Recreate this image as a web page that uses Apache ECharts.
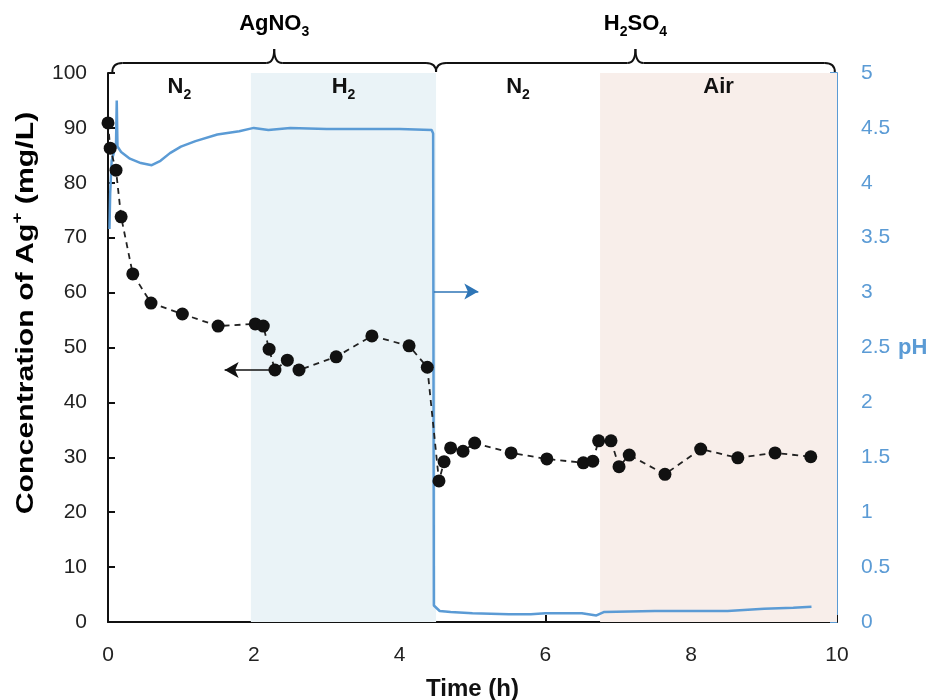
<!DOCTYPE html>
<html>
<head>
<meta charset="utf-8">
<script src="https://cdn.jsdelivr.net/npm/echarts@6/dist/echarts.min.js"></script>
<style>
  html, body { margin: 0; padding: 0; background: #fff; }
  #main { width: 935px; height: 700px; }
</style>
</head>
<body>
<div id="main"></div>
<script>
// Ag+ concentration (mg/L) vs time (h)
var agTime = [0, 0.03, 0.11, 0.18, 0.34, 0.59, 1.02, 1.51, 2.02, 2.13, 2.21, 2.29, 2.46, 2.62, 3.13, 3.62, 4.13, 4.38,
              4.54, 4.61, 4.70, 4.87, 5.03, 5.53, 6.02, 6.52, 6.65, 6.73, 6.90, 7.01, 7.15, 7.64, 8.13, 8.64, 9.15, 9.64];
var agConc = [90.9, 86.3, 82.3, 73.8, 63.4, 58.1, 56.1, 53.9, 54.3, 53.9, 49.7, 45.9, 47.7, 45.9, 48.3, 52.1, 50.3, 46.4,
              25.7, 29.2, 31.7, 31.1, 32.6, 30.8, 29.7, 29.0, 29.3, 33.0, 33.0, 28.3, 30.4, 26.9, 31.5, 29.9, 30.8, 30.1];

// pH trace
var phTime = [0.02, 0.03, 0.05, 0.09, 0.11, 0.12, 0.13, 0.18, 0.3, 0.45, 0.6, 0.72, 0.85, 1.0, 1.2, 1.5, 1.8, 2.0, 2.2, 2.5,
              3.0, 3.5, 4.0, 4.44, 4.46, 4.47, 4.55, 4.7, 5.0, 5.5, 5.8, 6.0, 6.5, 6.7, 6.8, 7.5, 8.5, 9.0, 9.4, 9.65];
var phVal = [3.58, 3.9, 4.2, 4.3, 4.35, 4.75, 4.33, 4.28, 4.22, 4.18, 4.16, 4.2, 4.27, 4.33, 4.38, 4.44, 4.47, 4.5, 4.48, 4.5,
             4.49, 4.49, 4.49, 4.48, 4.45, 0.15, 0.1, 0.09, 0.08, 0.07, 0.07, 0.08, 0.08, 0.06, 0.09, 0.1, 0.1, 0.12, 0.13, 0.14];

// gas phases along the time axis
var phaseNames = ['N2', 'H2', 'N2', 'Air'];
var phaseStart = [0, 1.96, 4.5, 6.75];
var phaseEnd = [1.96, 4.5, 6.75, 10];
var phaseColor = ['rgba(0,0,0,0)', '#eaf3f7', 'rgba(0,0,0,0)', '#f8eeea'];

// solutions (braces on top)
var solNames = ['AgNO3', 'H2SO4'];
var solStart = [0.06, 4.5];
var solEnd = [4.5, 9.97];

var blue = '#5b9bd5';
var font = 'Liberation Sans, Arial, sans-serif';

function zip(a, b) {
    var out = [];
    for (var i = 0; i < a.length; i++) out.push([a[i], b[i]]);
    return out;
}

var richSub = {
    b: { fontSize: 22, lineHeight: 26, fontWeight: 'bold', color: '#111', fontFamily: font, verticalAlign: 'top' },
    s: { fontSize: 14, lineHeight: 16, fontWeight: 'bold', color: '#111', fontFamily: font, verticalAlign: 'bottom', padding: [12, 0, 0, 0] }
};

// 'H2SO4' -> '{b|H}{s|2}{b|SO}{s|4}'
function subLabel(name) {
    return name.replace(/([A-Za-z]+)|(\d+)/g, function (m, letters, digits) {
        return letters ? '{b|' + letters + '}' : '{s|' + digits + '}';
    });
}

var areas = [];
for (var i = 0; i < phaseNames.length; i++) {
    areas.push([
        { xAxis: phaseStart[i], yAxis: 0, itemStyle: { color: phaseColor[i] },
          label: { formatter: subLabel(phaseNames[i]) } },
        { xAxis: phaseEnd[i], yAxis: 100 }
    ]);
}

var chart = echarts.init(document.getElementById('main'));
var option = {
    animation: false,
    backgroundColor: '#fff',
    grid: { left: 108, right: 98, top: 73, bottom: 78, outerBoundsMode: 'none', containLabel: false },
    xAxis: {
        type: 'value', min: 0, max: 10, interval: 2,
        name: 'Time (h)', nameLocation: 'middle', nameGap: 55,
        nameTextStyle: { fontSize: 24, fontWeight: 'bold', color: '#111', fontFamily: font },
        axisLine: { lineStyle: { color: '#111', width: 2 } },
        axisTick: { inside: true, length: 7, lineStyle: { color: '#111', width: 2 } },
        axisLabel: { fontSize: 21, color: '#222', fontFamily: font, margin: 23 },
        splitLine: { show: false }
    },
    yAxis: [{
        type: 'value', min: 0, max: 100, interval: 10,
        axisLine: { show: true, lineStyle: { color: '#111', width: 2 } },
        axisTick: { show: true, inside: true, length: 7, lineStyle: { color: '#111', width: 2 } },
        axisLabel: { fontSize: 21, color: '#222', fontFamily: font, margin: 21 },
        splitLine: { show: false }
    }, {
        type: 'value', min: 0, max: 5, interval: 0.5, position: 'right',
        name: 'pH', nameLocation: 'middle', nameGap: 61, nameRotate: 0,
        nameTextStyle: { fontSize: 22, fontWeight: 'bold', color: blue, fontFamily: font },
        axisLine: { show: true, lineStyle: { color: blue, width: 2 } },
        axisTick: { show: true, inside: true, length: 7, lineStyle: { color: blue, width: 2 } },
        axisLabel: { fontSize: 21, color: blue, fontFamily: font, margin: 24 },
        splitLine: { show: false }
    }],
    series: [{
        name: 'Ag+',
        type: 'line',
        data: zip(agTime, agConc),
        symbol: 'circle', symbolSize: 13,
        itemStyle: { color: '#111' },
        lineStyle: { color: '#222', width: 1.8, type: [6, 5] },
        z: 5,
        markArea: {
            silent: true,
            label: { show: true, position: 'insideTop', distance: 3, rich: richSub },
            data: areas
        },
        markLine: {
            silent: true,
            symbol: ['none', 'arrow'], symbolSize: [12, 14],
            lineStyle: { color: '#111', type: 'solid', width: 1.5 },
            label: { show: false },
            data: [[{ coord: [2.29, 45.9] }, { coord: [1.6, 45.9] }]]
        }
    }, {
        name: 'pH',
        type: 'line',
        yAxisIndex: 1,
        data: zip(phTime, phVal),
        showSymbol: false,
        lineStyle: { color: blue, width: 2.5 },
        z: 4,
        markLine: {
            silent: true,
            symbol: ['none', 'arrow'], symbolSize: [12, 14],
            lineStyle: { color: '#2e75b6', type: 'solid', width: 1.5 },
            label: { show: false },
            data: [[{ coord: [4.47, 3.01] }, { coord: [5.08, 3.01] }]]
        }
    }]
};
chart.setOption(option);

// curly braces above the plot for the two solutions
var graphics = [];
var yBase = 63, yEnd = 72, yTip = 49;
var braceStyle = { fill: null, stroke: '#111', lineWidth: 2 };
for (var k = 0; k < solNames.length; k++) {
    var xa = chart.convertToPixel({ xAxisIndex: 0 }, solStart[k]);
    var xb = chart.convertToPixel({ xAxisIndex: 0 }, solEnd[k]);
    var xm = (xa + xb) / 2;
    var parts = [
        { type: 'bezierCurve', shape: { x1: xa, y1: yEnd, x2: xa + 10, y2: yBase, cpx1: xa, cpy1: yBase } },
        { type: 'line', shape: { x1: xa + 10, y1: yBase, x2: xm - 8, y2: yBase } },
        { type: 'bezierCurve', shape: { x1: xm - 8, y1: yBase, x2: xm, y2: yTip, cpx1: xm, cpy1: yBase } },
        { type: 'bezierCurve', shape: { x1: xm, y1: yTip, x2: xm + 8, y2: yBase, cpx1: xm, cpy1: yBase } },
        { type: 'line', shape: { x1: xm + 8, y1: yBase, x2: xb - 10, y2: yBase } },
        { type: 'bezierCurve', shape: { x1: xb - 10, y1: yBase, x2: xb, y2: yEnd, cpx1: xb, cpy1: yBase } }
    ];
    parts.forEach(function (p) {
        p.silent = true;
        p.style = braceStyle;
        graphics.push(p);
    });
    graphics.push({
        type: 'text', silent: true,
        x: xm, y: 26,
        style: {
            text: subLabel(solNames[k]),
            rich: richSub,
            align: 'center', verticalAlign: 'middle'
        }
    });
}

// left axis title, stretched along its length like the original
graphics.push({
    type: 'text', silent: true,
    x: 24, y: 313, rotation: Math.PI / 2, scaleX: 1.26, scaleY: 1,
    style: {
        text: '{b|Concentration of Ag}{p|+}{b| (mg/L)}',
        align: 'center', verticalAlign: 'middle',
        rich: {
            b: { fontSize: 24, lineHeight: 28, fontWeight: 'bold', color: '#111', fontFamily: font, verticalAlign: 'bottom' },
            p: { fontSize: 15, lineHeight: 16, fontWeight: 'bold', color: '#111', fontFamily: font, verticalAlign: 'top' }
        }
    }
});
chart.setOption({ graphic: graphics });
</script>
</body>
</html>
